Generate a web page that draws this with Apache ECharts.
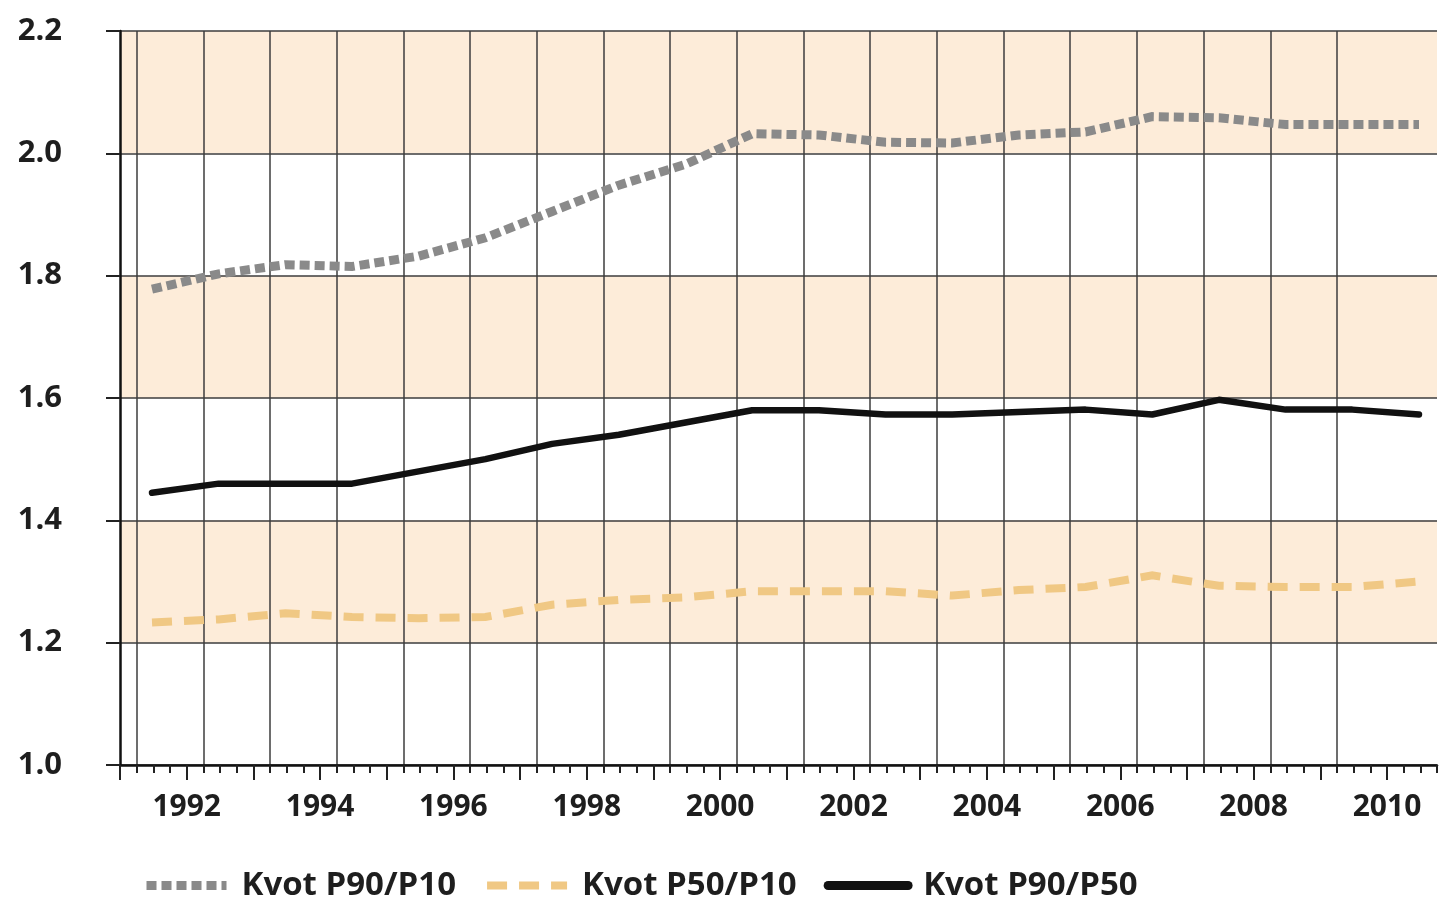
<!DOCTYPE html>
<html>
<head>
<meta charset="utf-8">
<script src="https://cdn.jsdelivr.net/npm/echarts@6/dist/echarts.min.js"></script>
<style>
  html, body { margin: 0; padding: 0; background: #ffffff; }
  #chart { width: 1440px; height: 905px; }
</style>
</head>
<body>
<div id="chart"></div>
<script>
// ---- data ----
const years = [1991, 1992, 1993, 1994, 1995, 1996, 1997, 1998, 1999, 2000,
               2001, 2002, 2003, 2004, 2005, 2006, 2007, 2008, 2009, 2010];
const labelYears = [1992, 1994, 1996, 1998, 2000, 2002, 2004, 2006, 2008, 2010];
const p90p10 = [1.778, 1.803, 1.818, 1.815, 1.832, 1.862, 1.905, 1.948, 1.982, 2.032,
                2.030, 2.018, 2.017, 2.030, 2.035, 2.060, 2.058, 2.047, 2.047, 2.047];
const p50p10 = [1.233, 1.238, 1.248, 1.242, 1.240, 1.242, 1.262, 1.270, 1.274, 1.284,
                1.284, 1.284, 1.277, 1.286, 1.291, 1.310, 1.293, 1.291, 1.291, 1.300];
const p90p50 = [1.445, 1.460, 1.460, 1.460, 1.480, 1.500, 1.525, 1.540, 1.560, 1.580,
                1.580, 1.573, 1.573, 1.577, 1.581, 1.573, 1.597, 1.581, 1.581, 1.573];
const seriesNames = ['Kvot P90/P10', 'Kvot P50/P10', 'Kvot P90/P50'];

// ---- layout / style ----
const MID_YEAR = 0.48;           // points sit at mid-year
const GRID_SHIFT = 0.25;         // vertical grid lines sit a quarter past each year tick
const X_MIN = 1991, X_MAX = 2010.75;
const FONT = '"Open Sans", "DejaVu Sans", sans-serif';
const TXT = '#1e1e1e';
const GRIDC = '#3c3c3c';

function pts(vals) { return years.map((y, i) => [y + MID_YEAR, vals[i]]); }
const gridPositions = years.slice(0, years.length - 1).map(y => y + GRID_SHIFT);

const chart = echarts.init(document.getElementById('chart'), null, { renderer: 'canvas' });

const option = {
  animation: false,
  backgroundColor: '#ffffff',
  grid: { left: 120, right: 3, top: 31, bottom: 140, containLabel: false },
  xAxis: [
    { // quarter ticks + axis line
      type: 'value', min: X_MIN, max: X_MAX, interval: 0.25,
      position: 'bottom',
      axisLine: { show: true, onZero: false, lineStyle: { color: '#111', width: 2.5 } },
      axisTick: { show: true, inside: false, length: 8, lineStyle: { color: '#222', width: 2 } },
      axisLabel: { show: false },
      splitLine: { show: false }
    },
    { // year ticks + labels
      type: 'value', min: X_MIN, max: X_MAX, interval: 1,
      position: 'bottom', offset: 0,
      axisLine: { show: false, onZero: false },
      axisTick: { show: true, inside: false, length: 15, customValues: years,
                  lineStyle: { color: '#222', width: 2 } },
      axisLabel: {
        show: true, customValues: labelYears, margin: 27,
        fontFamily: FONT, fontWeight: 'bold', fontSize: 30, color: TXT,
        formatter: v => (v % 2 === 0 ? String(v) : '')
      },
      splitLine: { show: false }
    },
    { // vertical grid lines
      type: 'value', min: X_MIN, max: X_MAX, interval: 1,
      position: 'bottom', offset: 0,
      axisLine: { show: false, onZero: false },
      axisTick: { show: false, customValues: gridPositions },
      axisLabel: { show: false },
      splitLine: { show: true, lineStyle: { color: GRIDC, width: 1.5 } }
    }
  ],
  yAxis: {
    type: 'value', min: 1.0, max: 2.2, interval: 0.2,
    axisLine: { show: true, onZero: false, lineStyle: { color: '#111', width: 2.5 } },
    axisTick: { show: true, inside: false, length: 14, lineStyle: { color: '#222', width: 2 } },
    axisLabel: {
      margin: 58, fontFamily: FONT, fontWeight: 'bold', fontSize: 31, color: TXT,
      formatter: v => v.toFixed(1)
    },
    splitLine: { show: true, lineStyle: { color: GRIDC, width: 1.5 } },
    splitArea: { show: true, areaStyle: { color: ['#ffffff', '#fdecd9'] } }
  },
  legend: {
    show: true,
    left: 137, top: 864,
    itemWidth: 80, itemHeight: 12, itemGap: 27,
    lineStyle: { width: 'inherit', type: 'inherit' },
    itemStyle: { opacity: 0 },
    textStyle: { fontFamily: FONT, fontWeight: 'bold', fontSize: 33, color: TXT, padding: [0, 0, 0, 10] },
    data: [
      { name: seriesNames[0] },
      { name: seriesNames[1] },
      { name: seriesNames[2], lineStyle: { width: 9, cap: 'round' } }
    ]
  },
  series: [
    {
      name: seriesNames[0], type: 'line', xAxisIndex: 0, data: pts(p90p10),
      symbol: 'none', z: 3,
      lineStyle: { color: '#8a8a8a', width: 9, type: [10, 5], cap: 'butt', join: 'miter' },
      itemStyle: { color: '#8a8a8a' }
    },
    {
      name: seriesNames[1], type: 'line', xAxisIndex: 0, data: pts(p50p10),
      symbol: 'none', z: 3,
      lineStyle: { color: '#f0c884', width: 8, type: [20, 12], cap: 'butt', join: 'miter' },
      itemStyle: { color: '#f0c884' }
    },
    {
      name: seriesNames[2], type: 'line', xAxisIndex: 0, data: pts(p90p50),
      symbol: 'none', z: 4,
      lineStyle: { color: '#111111', width: 6.5, type: 'solid', cap: 'round', join: 'round' },
      itemStyle: { color: '#111111' }
    }
  ]
};
chart.setOption(option);
</script>
</body>
</html>
